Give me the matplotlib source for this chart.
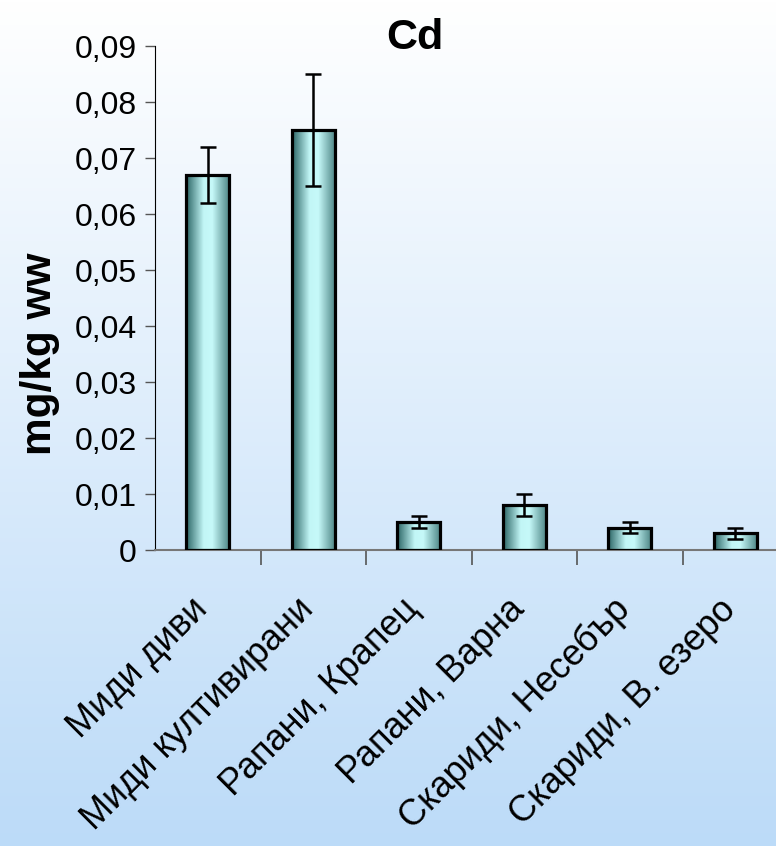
import matplotlib
matplotlib.use("Agg")
import matplotlib.pyplot as plt
import numpy as np
from matplotlib.colors import LinearSegmentedColormap
from matplotlib.ticker import FuncFormatter, FixedLocator
from matplotlib.transforms import ScaledTranslation

plt.rcParams['font.family'] = ['Liberation Sans', 'DejaVu Sans']

categories = ['Миди диви', 'Миди култивирани', 'Рапани, Крапец',
              'Рапани, Варна', 'Скариди, Несебър', 'Скариди, В. езеро']
values = [0.067, 0.075, 0.005, 0.008, 0.004, 0.003]
errors = [0.005, 0.010, 0.001, 0.002, 0.001, 0.001]
y_ticks = [0, 0.01, 0.02, 0.03, 0.04, 0.05, 0.06, 0.07, 0.08, 0.09]

fig = plt.figure(figsize=(7.76, 8.46), dpi=100)

# background gradient, white at top to light blue at bottom
bg = fig.add_axes([0, 0, 1, 1], zorder=-10)
bg_cmap = LinearSegmentedColormap.from_list('bg', ['#FFFFFF', '#BCDBF8'])
bg.imshow(np.linspace(0, 1, 256).reshape(-1, 1), cmap=bg_cmap, aspect='auto',
          extent=[0, 1, 0, 1])
bg.set_axis_off()

ax = fig.add_axes([155 / 776, 296 / 846, 633 / 776, 504 / 846])
ax.patch.set_alpha(0)

x = np.arange(len(categories))
bar_cmap = LinearSegmentedColormap.from_list(
    'bar', [(0, '#2A6464'), (0.4, '#C2F6F6'), (0.6, '#C6F9F9'), (1, '#4A8282')])
grad = np.linspace(0, 1, 128).reshape(1, -1)

bars = ax.bar(x, values, width=0.41, facecolor='none', edgecolor='black',
              linewidth=2.3, zorder=3)
for b in bars:
    im = ax.imshow(grad, cmap=bar_cmap, aspect='auto', zorder=2,
                   extent=[b.get_x(), b.get_x() + b.get_width(), 0, b.get_height()])
    im.set_clip_path(b)

ax.errorbar(x, values, yerr=errors, fmt='none', ecolor='black', elinewidth=1.8,
            capsize=5.5, capthick=1.8, zorder=4)

ax.set_xlim(-0.5, len(categories) - 0.5)
ax.set_ylim(0, 0.09)
ax.set_yticks(y_ticks)
ax.yaxis.set_major_formatter(FuncFormatter(
    lambda v, p: '0' if v == 0 else f'{v:.2f}'.replace('.', ',')))
ax.tick_params(axis='y', labelsize=23, length=7, width=1, color='#555555', pad=6)

ax.set_xticks(x)
ax.set_xticklabels(categories, rotation=45, ha='right', va='center',
                   rotation_mode='anchor', fontsize=26)
ax.tick_params(axis='x', which='major', length=0, pad=39)
shift = ScaledTranslation(-0.05, 0, fig.dpi_scale_trans)
for lbl in ax.get_xticklabels():
    lbl.set_transform(lbl.get_transform() + shift)
ax.xaxis.set_minor_locator(FixedLocator(x[:-1] + 0.5))
ax.tick_params(axis='x', which='minor', length=11, width=1.2, color='#555555')

for s in ['top', 'right']:
    ax.spines[s].set_visible(False)
ax.spines['left'].set_color('black')
ax.spines['bottom'].set_color('#777777')
ax.spines['bottom'].set_linewidth(1.5)

fig.text(415 / 776, 1 - 38 / 846, 'Cd', fontsize=31, fontweight='bold',
         ha='center', va='center')
fig.text(40 / 776, 1 - 354 / 846, 'mg/kg ww', fontsize=30.5, fontweight='bold',
         rotation=90, ha='center', va='center')

fig.savefig('out.png', dpi=100)
